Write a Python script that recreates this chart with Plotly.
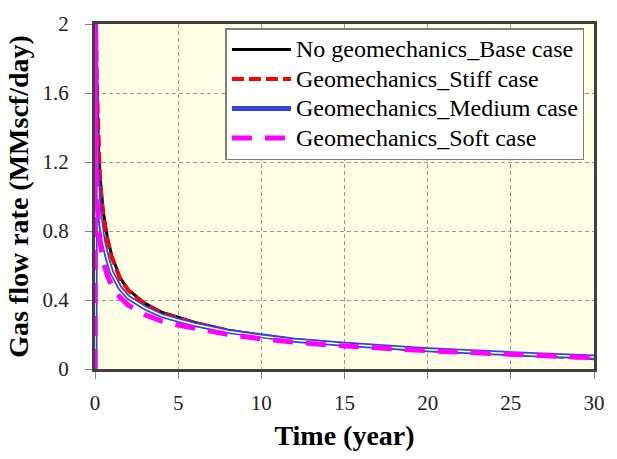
import plotly.graph_objects as go

# Production time in years
time_yr = [0, 0.02, 0.05, 0.1, 0.2, 0.3, 0.4, 0.5, 0.75, 1, 1.5, 2, 3, 4, 5,
           6, 8, 10, 12, 15, 18, 20, 25, 30]

# Gas flow rate (MMscf/day) for each case
base_case = [0, 2.6, 2.1, 1.7, 1.3, 1.12, 1.0, 0.91, 0.76, 0.66, 0.53, 0.46, 0.38,
             0.33, 0.30, 0.27, 0.225, 0.195, 0.17, 0.145, 0.125, 0.112, 0.088, 0.068]
stiff_case = [0, 2.6, 2.05, 1.68, 1.28, 1.1, 0.98, 0.89, 0.745, 0.65, 0.525, 0.455, 0.375,
              0.325, 0.295, 0.267, 0.222, 0.192, 0.168, 0.143, 0.122, 0.11, 0.085, 0.063]
medium_case = [0, 2.5, 1.6, 1.2, 0.98, 0.88, 0.8, 0.74, 0.64, 0.56, 0.47, 0.415, 0.355,
               0.31, 0.283, 0.258, 0.218, 0.19, 0.167, 0.143, 0.124, 0.112, 0.089, 0.07]
soft_case = [0, 2.5, 1.4, 1.0, 0.83, 0.74, 0.68, 0.62, 0.54, 0.485, 0.415, 0.37, 0.315,
             0.278, 0.255, 0.235, 0.2, 0.175, 0.155, 0.133, 0.116, 0.106, 0.085, 0.066]

series_names = ["No geomechanics_Base case", "Geomechanics_Stiff case",
                "Geomechanics_Medium case", "Geomechanics_Soft case"]

x_ticks = [0, 5, 10, 15, 20, 25, 30]
y_ticks = [0, 0.4, 0.8, 1.2, 1.6, 2]
y_tick_text = ["0", "0.4", "0.8", "1.2", "1.6", "2"]

SERIF = "Liberation Serif"


def legend_label(text):
    # larger glyphs than the legend's base size keep the rows tightly packed
    return f'<span style="font-size:24px">{text}</span>'


fig = go.Figure()
fig.add_trace(go.Scatter(x=time_yr, y=base_case, mode="lines", name=legend_label(series_names[0]),
                         line=dict(color="#000000", width=3)))
fig.add_trace(go.Scatter(x=time_yr, y=stiff_case, mode="lines", name=legend_label(series_names[1]),
                         line=dict(color="#FF0000", width=4, dash="12px,5px")))
fig.add_trace(go.Scatter(x=time_yr, y=medium_case, mode="lines", name=legend_label(series_names[2]),
                         legendgroup="medium",
                         line=dict(color="#3344DD", width=5)))
# white core gives the medium case its double-line look
fig.add_trace(go.Scatter(x=time_yr, y=medium_case, mode="lines", showlegend=False,
                         legendgroup="medium", hoverinfo="skip",
                         line=dict(color="#FFFFFF", width=1.5)))
fig.add_trace(go.Scatter(x=time_yr, y=soft_case, mode="lines", name=legend_label(series_names[3]),
                         line=dict(color="#FF00FF", width=5, dash="20px,13px")))

axis_common = dict(
    showline=True, linecolor="#404040", linewidth=3, mirror=True,
    showgrid=True, gridcolor="#999999", gridwidth=1, griddash="4px,3px",
    ticks="outside", ticklen=7, tickcolor="#808080", tickwidth=1,
    tickfont=dict(family=SERIF, size=21, color="#222222"),
    zeroline=False,
)

fig.update_xaxes(range=[0, 30], tickvals=x_ticks, ticklabelstandoff=6,
                 title=dict(text="<b>Time (year)</b>", standoff=12,
                            font=dict(family=SERIF, size=28, color="#000000")),
                 **axis_common)
fig.update_yaxes(range=[0, 2], tickvals=y_ticks, ticktext=y_tick_text, ticklabelstandoff=12,
                 title=dict(text="<b>Gas flow rate (MMscf/day)</b>", standoff=6,
                            font=dict(family=SERIF, size=28, color="#000000")),
                 **axis_common)

fig.update_layout(
    width=617, height=459,
    margin=dict(l=95, r=17, t=15, b=81),
    paper_bgcolor="#FFFFFF",
    plot_bgcolor="#FFFFE6",
    font=dict(family=SERIF),
    legend=dict(
        x=0.2614, y=0.988, xanchor="left", yanchor="top",
        bgcolor="#FFFFFF", bordercolor="#7F7F7F", borderwidth=1.5,
        font=dict(family=SERIF, size=20.4, color="#000000"),
        itemwidth=59, tracegroupgap=0,
    ),
    showlegend=True,
)

fig.write_html("out.html")
